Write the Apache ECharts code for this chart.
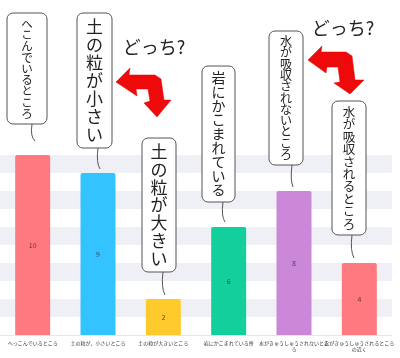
<!DOCTYPE html>
<html>
<head>
<meta charset="utf-8">
<script src="https://cdn.jsdelivr.net/npm/echarts@6/dist/echarts.min.js"></script>
<style>
  html, body { margin: 0; padding: 0; background: #fff; }
  #chart { width: 400px; height: 358px; }
</style>
</head>
<body>
<div id="chart"></div>
<script>
// ---- data ----
const categories = [
  'へっこんでいるところ',
  '土の粒が、小さいところ',
  '土の粒が大きいところ',
  '岩にかこまれている所',
  '水がきゅうしゅうされないとこ\nろ',
  '水がきゅうしゅうされるところ\nの近く'
];
const values = [10, 9, 2, 6, 8, 4];
const bubbleTexts = [
  'へこんでいるところ',
  '土の粒が小さい',
  '土の粒が大きい',
  '岩にかこまれている',
  '水が吸収されないところ',
  '水が吸収されるところ'
];
const questionText = 'どっち?';

// ---- styles ----
const palette = ['#ff7a80', '#33c4ff', '#ffca2b', '#12cf9b', '#cc88d8', '#ff7a80'];
const CJK = '"Noto Sans CJK JP", "Noto Sans", sans-serif';

// bubble layout: [x, y, w, h, fontSize, tail x1, y1, x2, y2]
const bubbleLayout = [
  [7, 13, 40, 111, 11.5, 32, 124, 35, 141],
  [77, 13, 35, 135, 17, 98, 148, 100, 169],
  [142, 138, 34, 134, 17, 163, 272, 165, 295],
  [202, 66, 33, 136, 14, 223, 202, 225, 222],
  [269, 31, 34, 134, 12, 292, 165, 293, 187],
  [332, 101, 34, 134, 12.5, 352, 235, 354, 258]
];

const chart = echarts.init(document.getElementById('chart'), null, { renderer: 'canvas' });

const graphics = [];
bubbleTexts.forEach((t, i) => {
  const [x, y, w, h, fs, tx1, ty1, tx2, ty2] = bubbleLayout[i];
  const chars = Array.from(t);
  const step = (h - 10) / chars.length;
  graphics.push({
    type: 'rect', z: 100,
    shape: { x: x, y: y, width: w, height: h, r: 6 },
    style: { fill: '#fff', stroke: '#555', lineWidth: 1 }
  });
  graphics.push({
    type: 'bezierCurve', z: 100,
    shape: { x1: tx1, y1: ty1, x2: tx2, y2: ty2, cpx1: tx1 - 2, cpy1: (ty1 + ty2) / 2 + 4 },
    style: { stroke: '#555', lineWidth: 1, fill: null }
  });
  chars.forEach((c, k) => {
    graphics.push({
      type: 'text', z: 101,
      style: {
        text: c, x: x + w / 2, y: y + 5 + step * (k + 0.5),
        font: fs + 'px ' + CJK, fill: '#222',
        textAlign: 'center', textVerticalAlign: 'middle'
      }
    });
  });
});

// arrows
const arrows = [
  [[116,82],[130,68],[129,75],[155,75],[161,79],[164,100],[171,100],[157,117],[144,103],[150,101],[148,89],[136,89],[137,96]],
  [[308,60],[322,46],[321,52],[346,52],[352,56],[355,80],[364,80],[350,94],[334,83],[340,82],[338,67],[327,67],[326,73]]
];
arrows.forEach(pts => {
  graphics.push({
    type: 'polygon', z: 100,
    shape: { points: pts, smooth: 0 },
    style: { fill: '#ee0a0a', stroke: '#e00000', lineWidth: 0.5 }
  });
});
[[154, 47], [343, 28]].forEach(p => {
  graphics.push({
    type: 'text', z: 101,
    style: {
      text: questionText, x: p[0], y: p[1],
      font: '18px ' + CJK, fill: '#222',
      textAlign: 'center', textVerticalAlign: 'middle'
    }
  });
});

chart.setOption({
  animation: false,
  backgroundColor: '#fff',
  grid: { left: -2, right: 8, top: 155, bottom: 23, containLabel: false },
  xAxis: {
    type: 'category',
    data: categories,
    axisLine: { show: true, lineStyle: { color: '#e3e6ec', width: 1 } },
    axisTick: { show: false },
    axisLabel: {
      interval: 0, fontSize: 5, color: '#333', margin: 5, lineHeight: 6,
      fontFamily: CJK
    }
  },
  yAxis: {
    type: 'value', min: 0, max: 10, interval: 1,
    axisLabel: { show: false },
    axisLine: { show: false },
    axisTick: { show: false },
    splitLine: { show: false },
    splitArea: { show: true, areaStyle: { color: ['#ffffff', '#eef0f5'] } }
  },
  series: [{
    type: 'bar',
    data: values.map((v, i) => ({ value: v, itemStyle: { color: palette[i] } })),
    barWidth: 35,
    itemStyle: { borderRadius: [2, 2, 0, 0] },
    label: {
      show: true, position: 'inside', fontSize: 7,
      color: 'rgba(40,30,40,0.75)', fontFamily: CJK
    }
  }],
  graphic: graphics
});
</script>
</body>
</html>
